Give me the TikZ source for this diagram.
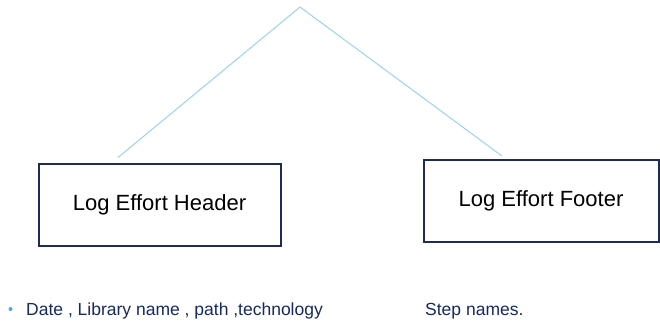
\documentclass[tikz,border=0pt]{standalone}
\usepackage{fontspec}
\setmainfont{Liberation Sans}
\usetikzlibrary{positioning}
\definecolor{boxline}{HTML}{1F2A5C}
\definecolor{branch}{HTML}{9AD3EC}
\definecolor{notetext}{HTML}{17295E}
\definecolor{dotblue}{HTML}{4BA6DA}

\begin{document}
\begin{tikzpicture}[x=1pt, y=-1pt, every node/.style={font=\fontsize{22}{26}\selectfont}]
\tikzstyle{logbox} = [rectangle, minimum height=82pt, text centered, draw=boxline, line width=2pt, inner sep=0pt]
\tikzstyle{branchline} = [draw=branch, line width=1pt]
\tikzstyle{note} = [anchor=base west, text=notetext, inner sep=0pt, font=\fontsize{17.5}{21}\selectfont]

\useasboundingbox (0,0) rectangle (660,327);

% Top point of the tree
\coordinate (apex) at (300,7);

% The two boxes
\node (header) [logbox, minimum width=242pt] at (159.5,204.5) {Log Effort Header};
\node (footer) [logbox, minimum width=235pt] at (541,201) {Log Effort Footer};

% Branches from the top
\draw [branchline] (apex) -- ([xshift=-41.5pt, yshift=5pt]header.north);
\draw [branchline] (apex) -- ([xshift=-39pt, yshift=3pt]footer.north);

% Notes below the boxes
\node (dot) [circle, fill=dotblue, inner sep=0pt, minimum size=4pt] at (10.5,309) {};
\node (hdrnote) [note] at (26,315) {Date , Library name , path ,technology};
\node (ftrnote) [note] at (425,315) {Step names.};

\end{tikzpicture}
\end{document}
